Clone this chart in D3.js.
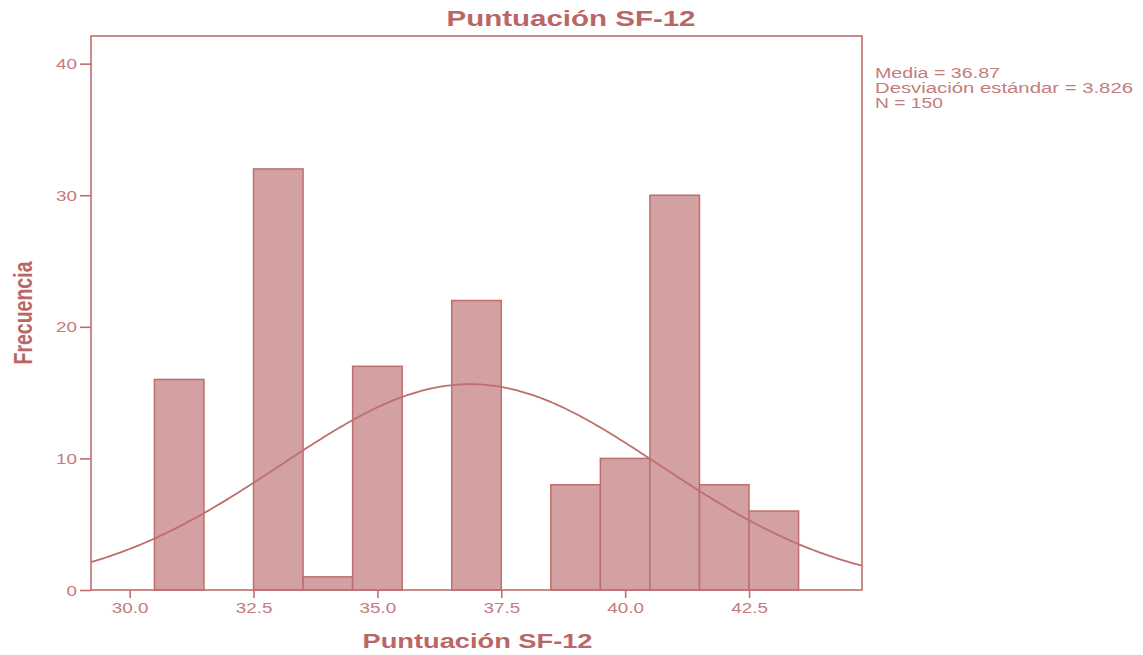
<!DOCTYPE html>
<html>
<head>
<meta charset="utf-8">
<script src="https://cdn.jsdelivr.net/npm/d3@7"></script>
<style>
  body { margin: 0; background: #fff; }
  text { font-family: "Liberation Sans", Arial, sans-serif; }
</style>
</head>
<body>
<div id="vis"></div>
<script>
// histogram data (bin centres, width 1)
const binCenters = [31, 33, 34, 35, 37, 39, 40, 41, 42, 43];
const counts = [16, 32, 1, 17, 22, 8, 10, 30, 8, 6];
const binWidth = 1;
const xTicks = [30, 32.5, 35, 37.5, 40, 42.5];
const yTicks = [0, 10, 20, 30, 40];
const statMean = 36.87, statSd = 3.826, statN = 150;
const statLines = ["Media = 36.87", "Desviación estándar = 3.826", "N = 150"];

const width = 1143, height = 655;
const plot = { left: 91, top: 36, right: 862, bottom: 590 };
const stretch = 1.3; // the original is stretched horizontally

const lineCol = "#bf6e6e";
const fillCol = "#d3a1a1";
const textCol = "#c47c7c";
const titleCol = "#bb6666";

let svg = d3.select("#vis").append("svg")
  .attr("width", width)
  .attr("height", height);

let x = d3.scaleLinear().domain([29.22, 44.78]).range([plot.left, plot.right]);
let y = d3.scaleLinear().domain([0, 42.1]).range([plot.bottom, plot.top]);

// bars
svg.selectAll("rect.bar")
  .data(binCenters.map((c, i) => ({ c: c, n: counts[i] })))
  .join("rect")
  .attr("class", "bar")
  .attr("x", d => x(d.c - binWidth / 2))
  .attr("width", d => x(d.c + binWidth / 2) - x(d.c - binWidth / 2))
  .attr("y", d => y(d.n))
  .attr("height", d => y(0) - y(d.n))
  .style("fill", fillCol)
  .style("stroke", lineCol)
  .style("stroke-width", 1.5);

// normal curve scaled to counts
const pdf = v => statN * binWidth / (statSd * Math.sqrt(2 * Math.PI)) *
  Math.exp(-0.5 * Math.pow((v - statMean) / statSd, 2));
const xs = d3.range(x.domain()[0], x.domain()[1] + 0.001, 0.05);
svg.append("path")
  .datum(xs)
  .attr("d", d3.line().x(d => x(d)).y(d => y(pdf(d))))
  .style("fill", "none")
  .style("stroke", lineCol)
  .style("stroke-width", 1.8);

// frame
svg.append("rect")
  .attr("x", plot.left).attr("y", plot.top)
  .attr("width", plot.right - plot.left)
  .attr("height", plot.bottom - plot.top)
  .style("fill", "none")
  .style("stroke", lineCol)
  .style("stroke-width", 1.6);

// axes
let yAxis = svg.append("g")
  .attr("transform", `translate(${plot.left},0)`)
  .call(d3.axisLeft(y).tickValues(yTicks).tickSize(11).tickPadding(3));
let xAxis = svg.append("g")
  .attr("transform", `translate(0,${plot.bottom})`)
  .call(d3.axisBottom(x).tickValues(xTicks).tickFormat(d3.format(".1f")).tickSize(8).tickPadding(5));

[xAxis, yAxis].forEach(g => {
  g.select(".domain").remove();
  g.selectAll(".tick line").style("stroke", lineCol).style("stroke-width", 1.6);
  g.selectAll(".tick text")
    .style("fill", textCol)
    .style("font-size", "14.5px")
    .style("font-family", "'Liberation Sans', Arial, sans-serif");
});
xAxis.selectAll(".tick text").attr("transform", `scale(${stretch},1)`);
yAxis.selectAll(".tick text").attr("x", -14 / stretch).attr("dy", "0.35em")
  .attr("transform", `scale(${stretch},1)`);

// title
svg.append("text")
  .attr("x", 571).attr("y", 25.5)
  .attr("text-anchor", "middle")
  .attr("textLength", 249).attr("lengthAdjust", "spacingAndGlyphs")
  .style("font-size", "22px").style("font-weight", "bold")
  .style("fill", titleCol)
  .text("Puntuación SF-12");

// x label
svg.append("text")
  .attr("x", 477.5).attr("y", 648)
  .attr("text-anchor", "middle")
  .attr("textLength", 230).attr("lengthAdjust", "spacingAndGlyphs")
  .style("font-size", "20.5px").style("font-weight", "bold")
  .style("fill", titleCol)
  .text("Puntuación SF-12");

// y label
svg.append("text")
  .attr("transform", `translate(32,313) scale(${stretch},1) rotate(-90)`)
  .attr("text-anchor", "middle")
  .style("font-size", "19.5px").style("font-weight", "bold")
  .style("fill", titleCol)
  .text("Frecuencia");

// stats box
const statWidths = [125, 258, 68];
svg.selectAll("text.stat")
  .data(statLines)
  .join("text")
  .attr("class", "stat")
  .attr("x", 875)
  .attr("y", (d, i) => 77.5 + i * 15)
  .attr("textLength", (d, i) => statWidths[i])
  .attr("lengthAdjust", "spacingAndGlyphs")
  .style("font-size", "14px")
  .style("fill", textCol)
  .text(d => d);
</script>
</body>
</html>
